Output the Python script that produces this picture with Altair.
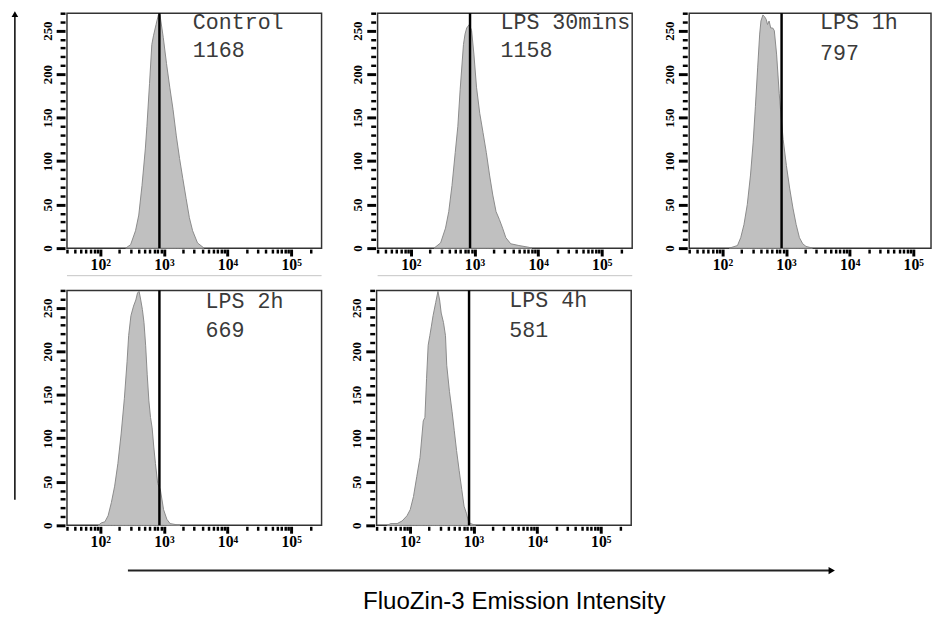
import altair as alt
import pandas as pd

# ---------------- data ----------------
PANEL_NAMES = ["Control", "LPS 30mins", "LPS 1h", "LPS 2h", "LPS 4h"]
PANEL_MFI = ["1168", "1158", "797", "669", "581"]
GATE = 850  # position of the vertical reference line (intensity)

# log10 intensity positions of histogram outline + cell counts
CONTROL_LOGX = [2.400, 2.477, 2.554, 2.605, 2.656, 2.708, 2.733, 2.774, 2.810, 2.836, 2.877, 2.913,
                2.938, 2.990, 3.041, 3.092, 3.144, 3.195, 3.246, 3.297, 3.349, 3.400, 3.451, 3.528, 3.631]
CONTROL_COUNT = [0, 4, 20, 38, 72, 114, 140, 189, 234, 244, 257, 268,
                 268, 242, 212, 185, 159, 129, 103, 80, 57, 35, 20, 6, 0]

LPS30_LOGX = [2.364, 2.467, 2.544, 2.595, 2.646, 2.697, 2.738, 2.774, 2.826, 2.851, 2.877, 2.918,
              2.954, 2.990, 3.031, 3.082, 3.133, 3.185, 3.236, 3.287, 3.338, 3.390, 3.441, 3.492,
              3.569, 3.697, 3.851, 3.903]
LPS30_COUNT = [0, 6, 23, 42, 72, 110, 140, 182, 234, 246, 253, 257,
               250, 223, 185, 155, 133, 110, 84, 61, 42, 33, 23, 12,
               5, 3, 1, 0]

LPS1H_LOGX = [2.108, 2.236, 2.287, 2.338, 2.390, 2.441, 2.482, 2.518, 2.554, 2.585, 2.605, 2.636,
              2.662, 2.687, 2.708, 2.733, 2.759, 2.790, 2.815, 2.851, 2.892, 2.913, 2.954, 3.005,
              3.056, 3.108, 3.159, 3.210, 3.262, 3.313, 3.415]
LPS1H_COUNT = [0, 3, 12, 27, 50, 84, 121, 163, 208, 246, 261, 268,
               266, 263, 257, 261, 253, 253, 250, 223, 178, 159, 125, 95,
               69, 46, 27, 12, 5, 2, 0]

LPS2H_LOGX = [1.969, 2.021, 2.072, 2.123, 2.174, 2.226, 2.277, 2.328, 2.379, 2.421, 2.446, 2.482,
              2.523, 2.559, 2.585, 2.610, 2.636, 2.662, 2.687, 2.713, 2.738, 2.764, 2.790, 2.815,
              2.841, 2.867, 2.903, 2.944, 2.995, 3.046, 3.097, 3.251]
LPS2H_COUNT = [0, 3, 4, 11, 26, 45, 71, 105, 146, 188, 218, 241,
               252, 259, 267, 269, 259, 248, 233, 207, 173, 143, 124, 112,
               90, 71, 48, 41, 18, 7, 2, 0]

LPS4H_LOGX = [1.646, 1.697, 1.800, 1.877, 1.954, 2.005, 2.056, 2.108, 2.159, 2.210, 2.236, 2.262,
              2.287, 2.313, 2.338, 2.364, 2.405, 2.441, 2.467, 2.492, 2.528, 2.559, 2.579, 2.621,
              2.662, 2.697, 2.733, 2.774, 2.815, 2.851, 2.887, 2.918, 2.954, 3.031]
LPS4H_COUNT = [0, 2, 2, 5, 11, 18, 33, 56, 78, 120, 124, 169,
               207, 218, 229, 241, 256, 269, 259, 244, 233, 218, 184, 154,
               131, 109, 86, 63, 41, 22, 14, 5, 2, 0]

LOGX = [CONTROL_LOGX, LPS30_LOGX, LPS1H_LOGX, LPS2H_LOGX, LPS4H_LOGX]
COUNTS = [CONTROL_COUNT, LPS30_COUNT, LPS1H_COUNT, LPS2H_COUNT, LPS4H_COUNT]

X_TICKS = [30, 40, 50, 60, 70, 80, 90,
           100, 200, 300, 400, 500, 600, 700, 800, 900,
           1000, 2000, 3000, 4000, 5000, 6000, 7000, 8000, 9000,
           10000, 20000, 30000, 40000, 50000, 60000, 70000, 80000, 90000,
           100000, 200000]
X_MAJOR = [100, 1000, 10000, 100000]
X_LABELS = ["10\u00b2", "10\u00b3", "10\u2074", "10\u2075"]
Y_TICKS = list(range(0, 271, 10))
Y_LABEL_STEP = 50
AXIS_TITLE = "FluoZin-3 Emission Intensity"

# ---------------- styling helpers ----------------
MAJOR_TEST = " || ".join(f"datum.value == {v}" for v in X_MAJOR)
LABEL_EXPR = " : ".join(f"datum.value == {v} ? '{t}'" for v, t in zip(X_MAJOR, X_LABELS)) + " : ''"
Y_MAJOR_TEST = f"datum.value % {Y_LABEL_STEP} == 0"

PLOT_H = 239
one = pd.DataFrame({"k": [0]})


def x_axis(xmax):
    return alt.Axis(
        values=[v for v in X_TICKS if v <= xmax],
        labelExpr=LABEL_EXPR,
        tickSize={"condition": {"test": MAJOR_TEST, "value": 7}, "value": 4},
        tickWidth={"condition": {"test": MAJOR_TEST, "value": 3}, "value": 2.5},
        tickColor="black", domain=False, grid=False, offset=1,
        labelFont="Liberation Serif", labelFontWeight="bold", labelFontSize=16,
        labelColor="black", labelPadding=1, labelOverlap=False, labelFlush=False,
        title=None,
    )


Y_AXIS = alt.Axis(
    values=Y_TICKS,
    labelExpr=f"{Y_MAJOR_TEST} ? datum.label : ''",
    tickSize={"condition": {"test": Y_MAJOR_TEST, "value": 9}, "value": 5},
    tickWidth={"condition": {"test": Y_MAJOR_TEST, "value": 3}, "value": 2.5},
    tickColor="black", domain=False, grid=False, offset=2,
    labelAngle=270, labelAlign="center", labelBaseline="bottom",
    labelFont="Liberation Serif", labelFontWeight="bold", labelFontSize=13,
    labelColor="black", labelPadding=2, labelOverlap=False, labelFlush=False,
    title=None,
)


def panel(i, width, xmax, tx, ty1, ty2, artifact=False):
    df = pd.DataFrame({"intensity": [10 ** v for v in LOGX[i]], "count": COUNTS[i]})
    xs = alt.Scale(type="log", domain=[30, xmax], nice=False)
    ys = alt.Scale(domain=[0, 270], nice=False)
    xenc = alt.X("intensity:Q", scale=xs, axis=x_axis(xmax))
    area = alt.Chart(df).mark_area(
        color="#c0c0c0", stroke="#8a8a8a", strokeWidth=1, interpolate="linear"
    ).encode(x=xenc, y=alt.Y("count:Q", scale=ys, axis=Y_AXIS))
    gate = alt.Chart(pd.DataFrame({"intensity": [GATE]})).mark_rule(
        color="black", strokeWidth=2.5
    ).encode(x=xenc)
    t1 = alt.Chart(pd.DataFrame({"t": [PANEL_NAMES[i]]})).mark_text(
        align="left", baseline="alphabetic", font="Liberation Mono", fontSize=22,
        color="#3a3a3a", clip=True
    ).encode(text="t:N", x=alt.value(tx), y=alt.value(ty1))
    t2 = alt.Chart(pd.DataFrame({"t": [PANEL_MFI[i]]})).mark_text(
        align="left", baseline="alphabetic", font="Liberation Mono", fontSize=22,
        color="#3a3a3a", clip=True
    ).encode(text="t:N", x=alt.value(tx), y=alt.value(ty2))
    layers = [area, gate, t1, t2]
    if artifact:
        layers.append(alt.Chart(one).mark_rule(color="#c4c4c4", strokeWidth=1).encode(
            x=alt.value(0), x2=alt.value(width), y=alt.value(267)))
    return alt.layer(*layers).properties(width=width, height=PLOT_H)


p1 = panel(0, 259, 300000, 128, 16, 45, artifact=True)
p2 = panel(1, 259, 300000, 125, 16, 45, artifact=True)
p3 = panel(2, 246, 190000, 133, 16, 48)
p4 = panel(3, 259, 300000, 141, 18, 47)
p5 = panel(4, 259, 300000, 135, 17, 47)

NOVIEW = alt.ViewBackground(stroke="transparent")

# left (count) arrow
left_line = alt.Chart(one).mark_rule(color="black", strokeWidth=1.5).encode(
    x=alt.value(6), y=alt.value(0), y2=alt.value(495))
left_head = alt.Chart(one).mark_point(shape="triangle-up", filled=True, size=45,
                                      color="black", opacity=1).encode(
    x=alt.value(6), y=alt.value(1))
left = alt.layer(left_line, left_head).properties(width=12, height=495, view=NOVIEW)

# bottom (intensity) arrow and title
bot_line = alt.Chart(one).mark_rule(color="#222222", strokeWidth=2).encode(
    x=alt.value(62), x2=alt.value(776), y=alt.value(15))
bot_head = alt.Chart(one).mark_point(shape="triangle-right", filled=True, size=55,
                                     color="black", opacity=1).encode(
    x=alt.value(778), y=alt.value(15))
bot_title = alt.Chart(pd.DataFrame({"t": [AXIS_TITLE]})).mark_text(
    align="center", baseline="alphabetic", font="Liberation Sans", fontSize=24.5, color="black"
).encode(text="t:N", x=alt.value(455), y=alt.value(54))
bottom = alt.layer(bot_line, bot_head, bot_title).properties(width=800, height=56, view=NOVIEW)

row1 = alt.hconcat(alt.hconcat(p1, p2, spacing=28), p3, spacing=29)
row2 = alt.hconcat(p4, p5, spacing=28)
body = alt.vconcat(alt.vconcat(row1, row2, spacing=11), bottom, spacing=4)

chart = alt.hconcat(left, body, spacing=19).properties(
    padding={"left": 0, "top": -3, "right": 0, "bottom": 0}
).configure_view(stroke="#333333", strokeWidth=1.5)

chart.save("out.html", embed_options={"renderer": "svg", "actions": False})
